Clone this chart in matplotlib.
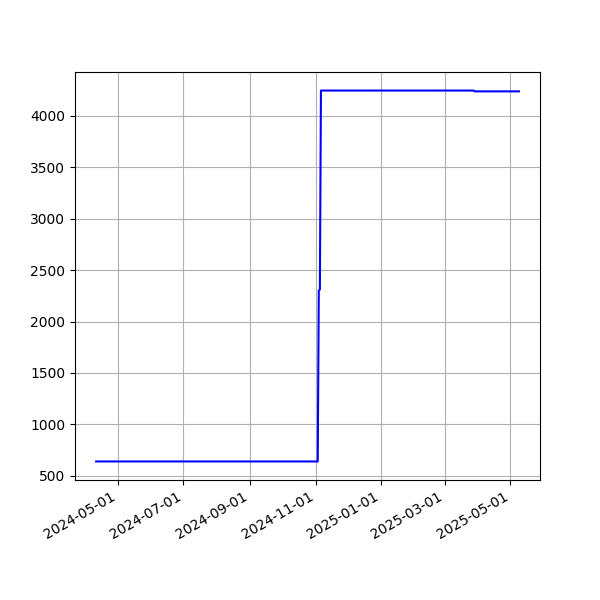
import matplotlib
matplotlib.use("Agg")
import matplotlib.pyplot as plt
import matplotlib.dates as mdates
import pandas as pd

dates = ["2024-04-11", "2024-11-03", "2024-11-04", "2024-11-05", "2024-11-06",
         "2025-03-28", "2025-03-29", "2025-05-09"]
values = [640, 640, 2300, 2310, 4245, 4245, 4237, 4237]

x = pd.to_datetime(dates)

fig, ax = plt.subplots(figsize=(6, 6), dpi=100)
ax.plot(x, values, color="blue", linewidth=1.5)
ax.grid(True)
ax.xaxis.set_major_locator(mdates.MonthLocator(bymonth=[1, 3, 5, 7, 9, 11]))
ax.xaxis.set_major_formatter(mdates.DateFormatter("%Y-%m-%d"))
fig.autofmt_xdate()
fig.savefig("out.png")
